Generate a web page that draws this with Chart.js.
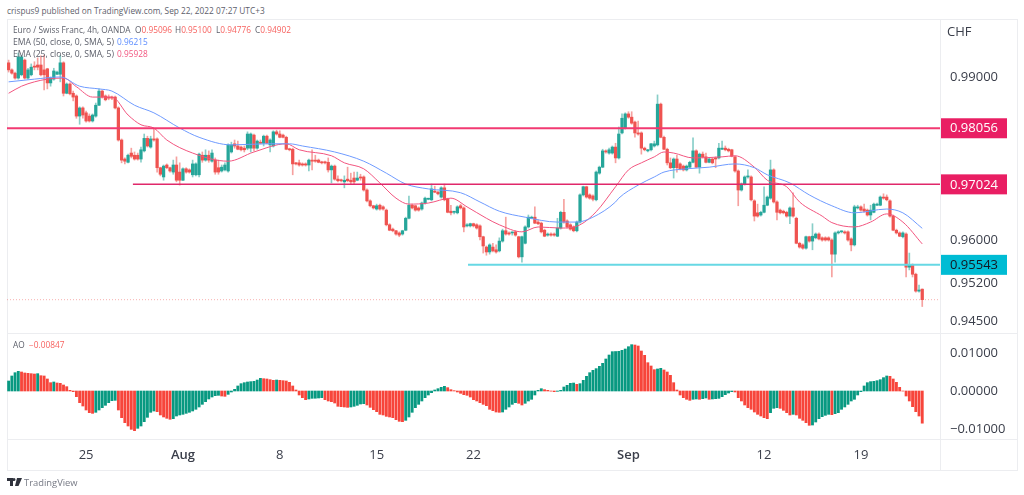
<!DOCTYPE html>
<html>
<head>
<meta charset="utf-8">
<title>EUR/CHF</title>
<script src="https://cdn.jsdelivr.net/npm/chart.js@4"></script>
<style>
  html, body { margin: 0; background: #fff; }
  body { position: relative; width: 1024px; height: 495px; overflow: hidden; font-family: "Open Sans", sans-serif; }
  canvas { position: absolute; left: 7px; }
  .txt { position: absolute; white-space: nowrap; font-size: 8.3px; line-height: 12px; color: #5d606b; }
  .rule { position: absolute; background: #ecedf0; }
  .red { color: #f7625f; }
</style>
</head>
<body>
<div class="rule" style="left:7px;top:19px;width:1010px;height:1px"></div>
<div class="rule" style="left:7px;top:470px;width:1010px;height:1px"></div>
<div class="rule" style="left:7px;top:19px;width:1px;height:451px"></div>
<div class="rule" style="left:1017px;top:19px;width:1px;height:452px"></div>
<div class="rule" style="left:940px;top:19px;width:1px;height:451px"></div>
<div class="rule" style="left:7px;top:333px;width:1010px;height:1px"></div>
<div class="rule" style="left:7px;top:439px;width:1010px;height:1px"></div>
<canvas id="priceChart" width="1010" height="313" style="top:20px"></canvas>
<canvas id="aoChart" width="1010" height="137" style="top:333px"></canvas>
<div class="txt" style="left:7px;top:5px">crispus9 published on TradingView.com, Sep 22, 2022 07:27 UTC+3</div>
<div class="txt" style="left:13px;top:24px">Euro / Swiss Franc, 4h, OANDA</div>
<div class="txt" style="left:135px;top:24px">O<span class="red">0.95096</span></div>
<div class="txt" style="left:175px;top:24px">H<span class="red">0.95100</span></div>
<div class="txt" style="left:216px;top:24px">L<span class="red">0.94776</span></div>
<div class="txt" style="left:255px;top:24px">C<span class="red">0.94902</span></div>
<div class="txt" style="left:13px;top:36px;font-size:8.6px">EMA (50, close, 0, SMA, 5)</div>
<div class="txt" style="left:117px;top:36px;color:#5b8cff">0.96215</div>
<div class="txt" style="left:13px;top:48px;font-size:8.6px">EMA (25, close, 0, SMA, 5)</div>
<div class="txt" style="left:117px;top:48px;color:#f2557f">0.95928</div>
<div class="txt" style="left:13px;top:339px">AO</div>
<div class="txt red" style="left:29px;top:339px">−0.00847</div>
<div class="txt" style="left:947px;top:22px;font-size:13px;line-height:18px;color:#3a3e4a">CHF</div>
<svg style="position:absolute;left:7px;top:478px" width="15" height="9" viewBox="0 0 15 9"><path fill="#2f323c" d="M0 0h6v8H3V3H0zM7 0a1.5 1.5 0 1 1 0 3 1.5 1.5 0 0 1 0-3zM10 0h5l-3.5 8H8z"/></svg>
<div class="txt" style="left:24px;top:477px;color:#777a85;font-size:9.4px">TradingView</div>

<script>
// 4h candles, one entry per bar
const opens = [
.9926,.9913,.9907,.9898,.9904,.9931,.9898,.9904,.9920,.9922,.9922,.9913,.9915,.9889,.9896,.9905,.9905,.9926,.9870,.9887,
.9870,.9865,.9828,.9843,.9834,.9828,.9819,.9828,.9848,.9874,.9865,.9863,.9863,.9863,.9843,.9784,.9749,.9743,.9760,.9756,
.9756,.9749,.9764,.9787,.9771,.9786,.9786,.9733,.9716,.9738,.9733,.9725,.9738,.9725,.9710,.9731,.9729,.9720,.9720,.9720,
.9756,.9747,.9756,.9745,.9747,.9733,.9727,.9729,.9727,.9762,.9777,.9773,.9771,.9769,.9769,.9769,.9793,.9769,.9780,.9778,
.9791,.9775,.9773,.9799,.9795,.9793,.9789,.9767,.9767,.9742,.9742,.9740,.9740,.9738,.9747,.9747,.9747,.9743,.9743,.9743,
.9729,.9736,.9712,.9710,.9707,.9712,.9710,.9714,.9710,.9716,.9716,.9692,.9672,.9663,.9657,.9664,.9661,.9655,.9628,.9620,
.9617,.9613,.9611,.9618,.9640,.9664,.9663,.9659,.9657,.9668,.9675,.9674,.9690,.9688,.9679,.9696,.9675,.9653,.9651,.9650,
.9663,.9659,.9626,.9626,.9630,.9628,.9626,.9606,.9587,.9578,.9587,.9582,.9580,.9598,.9617,.9613,.9613,.9615,.9606,.9569,
.9594,.9624,.9640,.9642,.9633,.9631,.9618,.9609,.9611,.9611,.9607,.9622,.9651,.9635,.9628,.9624,.9617,.9633,.9683,.9698,
.9683,.9681,.9674,.9723,.9734,.9764,.9760,.9760,.9771,.9751,.9797,.9806,.9832,.9826,.9817,.9797,.9797,.9769,.9764,.9766,
.9773,.9775,.9850,.9789,.9767,.9742,.9733,.9749,.9740,.9736,.9729,.9734,.9743,.9764,.9734,.9758,.9753,.9743,.9749,.9751,
.9751,.9767,.9769,.9767,.9766,.9753,.9727,.9692,.9703,.9716,.9716,.9672,.9650,.9646,.9651,.9664,.9677,.9729,.9670,.9655,
.9653,.9651,.9644,.9659,.9640,.9594,.9591,.9585,.9606,.9598,.9604,.9611,.9604,.9604,.9604,.9600,.9574,.9613,.9615,.9615,
.9615,.9602,.9591,.9659,.9661,.9657,.9655,.9646,.9651,.9664,.9664,.9679,.9679,.9672,.9644,.9618,.9613,.9606,.9611,.9550,
.9554,.9537,.9506,.95096];
const closes = [
.9913,.9907,.9898,.9937,.9937,.9898,.9913,.9918,.9918,.9918,.9904,.9904,.9889,.9898,.9911,.9909,.9926,.9870,.9887,.9869,
.9863,.9828,.9843,.9830,.9819,.9819,.9830,.9848,.9874,.9863,.9858,.9861,.9861,.9843,.9784,.9747,.9745,.9756,.9754,.9749,
.9749,.9766,.9787,.9773,.9786,.9784,.9733,.9721,.9736,.9733,.9727,.9738,.9710,.9710,.9731,.9725,.9725,.9740,.9740,.9758,
.9747,.9756,.9747,.9760,.9725,.9725,.9734,.9738,.9775,.9775,.9773,.9767,.9766,.9766,.9795,.9795,.9769,.9782,.9778,.9791,
.9778,.9784,.9799,.9795,.9789,.9789,.9767,.9766,.9740,.9740,.9738,.9738,.9738,.9747,.9745,.9745,.9743,.9742,.9742,.9729,
.9736,.9712,.9709,.9709,.9710,.9709,.9707,.9707,.9714,.9714,.9692,.9672,.9663,.9659,.9663,.9657,.9657,.9628,.9618,.9617,
.9611,.9609,.9617,.9640,.9664,.9659,.9655,.9655,.9668,.9677,.9675,.9694,.9688,.9685,.9696,.9674,.9651,.9650,.9651,.9661,
.9659,.9624,.9628,.9630,.9626,.9622,.9606,.9589,.9578,.9591,.9580,.9578,.9598,.9617,.9611,.9611,.9613,.9609,.9569,.9606,
.9624,.9642,.9642,.9631,.9630,.9615,.9607,.9611,.9609,.9609,.9622,.9651,.9633,.9624,.9620,.9617,.9633,.9683,.9698,.9679,
.9677,.9675,.9725,.9734,.9764,.9762,.9766,.9771,.9751,.9795,.9824,.9832,.9826,.9815,.9797,.9795,.9769,.9766,.9766,.9777,
.9777,.9850,.9789,.9767,.9742,.9733,.9749,.9733,.9731,.9729,.9736,.9743,.9764,.9734,.9758,.9753,.9743,.9749,.9742,.9749,
.9769,.9769,.9766,.9764,.9754,.9727,.9692,.9703,.9716,.9716,.9674,.9644,.9644,.9651,.9664,.9679,.9729,.9670,.9651,.9650,
.9650,.9644,.9659,.9644,.9594,.9587,.9585,.9606,.9598,.9607,.9611,.9602,.9600,.9600,.9600,.9574,.9613,.9615,.9615,.9613,
.9600,.9591,.9661,.9659,.9655,.9653,.9646,.9655,.9666,.9666,.9679,.9677,.9674,.9644,.9618,.9613,.9607,.9613,.9550,.9554,
.9537,.9506,.9508,.94902];
const highs = [
.9931,.9915,.9909,.9944,.9940,.9933,.9916,.9924,.9928,.9935,.9939,.9940,.9916,.9900,.9916,.9911,.9940,.9928,.9889,.9889,
.9874,.9867,.9845,.9845,.9837,.9832,.9832,.9852,.9878,.9876,.9867,.9867,.9865,.9865,.9845,.9786,.9751,.9758,.9769,.9762,
.9760,.9771,.9795,.9791,.9791,.9804,.9788,.9734,.9738,.9740,.9734,.9747,.9753,.9742,.9733,.9733,.9731,.9747,.9742,.9760,
.9762,.9766,.9764,.9766,.9751,.9747,.9738,.9742,.9777,.9780,.9784,.9782,.9773,.9773,.9799,.9797,.9795,.9784,.9784,.9793,
.9793,.9786,.9801,.9802,.9801,.9795,.9791,.9769,.9769,.9743,.9747,.9742,.9742,.9749,.9766,.9756,.9749,.9745,.9745,.9751,
.9738,.9738,.9718,.9712,.9718,.9734,.9723,.9725,.9725,.9721,.9718,.9694,.9674,.9664,.9666,.9666,.9663,.9657,.9630,.9622,
.9618,.9615,.9618,.9642,.9681,.9666,.9664,.9661,.9670,.9679,.9677,.9703,.9699,.9690,.9698,.9703,.9677,.9664,.9653,.9663,
.9666,.9661,.9630,.9631,.9631,.9630,.9628,.9607,.9589,.9593,.9594,.9591,.9604,.9620,.9642,.9615,.9615,.9617,.9607,.9607,
.9626,.9646,.9644,.9661,.9637,.9633,.9620,.9613,.9613,.9613,.9640,.9653,.9675,.9637,.9630,.9626,.9635,.9685,.9699,.9699,
.9685,.9683,.9727,.9736,.9767,.9766,.9769,.9773,.9778,.9808,.9832,.9834,.9836,.9836,.9819,.9819,.9799,.9771,.9767,.9778,
.9782,.9867,.9852,.9791,.9769,.9751,.9751,.9756,.9742,.9738,.9738,.9745,.9788,.9766,.9760,.9762,.9760,.9751,.9751,.9753,
.9778,.9782,.9773,.9769,.9767,.9754,.9729,.9705,.9718,.9729,.9718,.9674,.9666,.9653,.9698,.9681,.9747,.9731,.9672,.9657,
.9655,.9653,.9661,.9687,.9642,.9596,.9593,.9607,.9607,.9630,.9613,.9613,.9606,.9606,.9606,.9602,.9615,.9617,.9617,.9617,
.9617,.9604,.9664,.9664,.9663,.9666,.9657,.9664,.9668,.9668,.9681,.9685,.9683,.9674,.9646,.9620,.9615,.9615,.9613,.9576,
.9556,.9539,.9517,.95100];
const lows = [
.9909,.9905,.9896,.9896,.9902,.9896,.9896,.9902,.9913,.9913,.9902,.9876,.9878,.9883,.9894,.9904,.9891,.9865,.9869,.9867,
.9856,.9824,.9813,.9824,.9817,.9817,.9817,.9826,.9847,.9861,.9856,.9858,.9858,.9841,.9782,.9742,.9740,.9742,.9751,.9747,
.9747,.9743,.9762,.9771,.9769,.9782,.9725,.9718,.9710,.9731,.9725,.9721,.9707,.9701,.9709,.9723,.9723,.9716,.9718,.9716,
.9743,.9745,.9743,.9743,.9721,.9721,.9725,.9727,.9725,.9760,.9769,.9766,.9764,.9762,.9766,.9762,.9764,.9767,.9777,.9773,
.9777,.9762,.9771,.9793,.9788,.9788,.9766,.9764,.9720,.9738,.9736,.9736,.9736,.9727,.9729,.9743,.9742,.9740,.9740,.9725,
.9705,.9710,.9707,.9707,.9696,.9707,.9703,.9703,.9709,.9710,.9690,.9670,.9661,.9657,.9655,.9655,.9655,.9626,.9617,.9615,
.9609,.9606,.9609,.9617,.9639,.9657,.9653,.9653,.9655,.9666,.9674,.9672,.9687,.9683,.9677,.9672,.9650,.9646,.9648,.9648,
.9657,.9615,.9624,.9624,.9624,.9620,.9600,.9576,.9572,.9574,.9578,.9576,.9578,.9596,.9609,.9609,.9609,.9607,.9567,.9559,
.9593,.9622,.9639,.9630,.9628,.9613,.9606,.9607,.9607,.9607,.9606,.9620,.9631,.9622,.9618,.9615,.9615,.9631,.9681,.9677,
.9675,.9672,.9672,.9721,.9733,.9760,.9758,.9758,.9742,.9749,.9795,.9804,.9824,.9813,.9789,.9793,.9758,.9764,.9762,.9764,
.9771,.9773,.9788,.9766,.9738,.9731,.9714,.9725,.9729,.9727,.9727,.9733,.9742,.9733,.9723,.9751,.9742,.9742,.9740,.9733,
.9749,.9766,.9764,.9762,.9753,.9725,.9663,.9690,.9701,.9714,.9672,.9635,.9642,.9644,.9650,.9663,.9675,.9668,.9637,.9648,
.9648,.9642,.9630,.9642,.9593,.9585,.9583,.9583,.9596,.9582,.9602,.9600,.9598,.9598,.9598,.9532,.9559,.9611,.9613,.9611,
.9598,.9580,.9589,.9657,.9653,.9651,.9644,.9637,.9650,.9663,.9663,.9675,.9672,.9642,.9617,.9611,.9606,.9604,.9532,.9545,
.9532,.9504,.9504,.94776];

// moving averages, values read at these bar numbers
const ema50Bars = [0,8,16,22,28,32,39,45,53,59,69,80,87,91,101,110,117,123,130,140,146,152,160,170,176,181,188,189,195,200,203,210,217,225,231,235,242,248,255,262,272,277,283];
const ema50Values = [.9891,.9896,.9900,.9883,.9878,.9874,.9848,.9834,.9806,.9789,.9775,.9777,.9777,.9773,.9762,.9745,.9723,.9703,.9694,.9687,.9670,.9653,.9642,.9633,.9633,.9642,.9670,.9677,.9701,.9716,.9725,.9731,.9734,.9740,.9733,.9720,.9705,.9683,.9663,.9650,.9657,.9650,.96215];
const ema25Bars = [0,4,8,12,17,21,26,32,37,41,45,49,57,68,76,86,90,100,104,110,115,120,124,130,137,142,148,152,159,164,171,177,182,188,192,196,200,203,206,212,221,225,231,235,241,245,252,255,262,267,272,277,283];
const ema25Values = [.9870,.9883,.9891,.9896,.9898,.9882,.9863,.9863,.9830,.9812,.9806,.9784,.9760,.9745,.9762,.9777,.9766,.9755,.9742,.9731,.9705,.9677,.9666,.9668,.9677,.9661,.9640,.9628,.9615,.9624,.9622,.9628,.9652,.9698,.9729,.9742,.9753,.9762,.9760,.9751,.9753,.9755,.9734,.9710,.9698,.9670,.9644,.9632,.9624,.9633,.9648,.9633,.95928];

// horizontal levels drawn on the chart
const levelValues = [0.98056, 0.97024, 0.95543];
const levelStartBars = [-0.5, 38.5, 142.3];
const lastClose = 0.94902;

const aoValues = [
.00263,.00395,.00482,.00517,.00500,.00474,.00465,.00456,.00447,.00456,.00403,.00395,.00316,.00219,.00237,.00211,.00202,.00158,.00114,.00018,
-.00018,-.00149,-.00307,-.00395,-.00500,-.00570,-.00588,-.00561,-.00500,-.00439,-.00377,-.00307,-.00254,-.00246,-.00500,-.00702,-.00833,-.00921,-.01009,-.01044,
-.00982,-.00921,-.00807,-.00693,-.00561,-.00526,-.00544,-.00631,-.00684,-.00719,-.00745,-.00728,-.00658,-.00631,-.00614,-.00588,-.00561,-.00526,-.00482,-.00421,
-.00351,-.00281,-.00210,-.00158,-.00123,-.00114,-.00132,-.00140,-.00088,-.00026,.00044,.00132,.00193,.00219,.00237,.00246,.00254,.00289,.00333,.00324,
.00316,.00298,.00281,.00289,.00281,.00272,.00263,.00228,.00132,.00026,-.00105,-.00175,-.00228,-.00210,-.00193,-.00191,-.00184,-.00175,-.00228,-.00263,
-.00281,-.00316,-.00403,-.00412,-.00421,-.00430,-.00421,-.00403,-.00377,-.00342,-.00333,-.00368,-.00430,-.00491,-.00544,-.00614,-.00631,-.00667,-.00684,-.00702,
-.00754,-.00798,-.00807,-.00772,-.00684,-.00561,-.00439,-.00351,-.00263,-.00175,-.00105,-.00044,.00026,.00061,.00096,.00123,.00088,.00035,.00009,-.00026,
-.00061,-.00096,-.00114,-.00158,-.00228,-.00263,-.00307,-.00351,-.00386,-.00482,-.00517,-.00553,-.00561,-.00553,-.00482,-.00421,-.00351,-.00307,-.00324,-.00368,
-.00324,-.00263,-.00219,-.00105,.00018,.00061,.00035,.00018,-.00004,-.00018,-.00009,.00018,.00105,.00149,.00202,.00210,.00175,.00193,.00281,.00386,
.00482,.00544,.00588,.00649,.00728,.00842,.00947,.01035,.01039,.01044,.01070,.01105,.01166,.01219,.01210,.01184,.01052,.00938,.00745,.00658,
.00561,.00579,.00596,.00553,.00500,.00412,.00219,.00026,-.00105,-.00175,-.00219,-.00246,-.00219,-.00210,-.00219,-.00202,-.00184,-.00219,-.00210,-.00202,
-.00193,-.00149,-.00096,-.00053,-.00018,-.00026,-.00175,-.00263,-.00368,-.00439,-.00482,-.00553,-.00614,-.00658,-.00702,-.00728,-.00570,-.00456,-.00439,-.00456,
-.00509,-.00570,-.00631,-.00614,-.00631,-.00719,-.00772,-.00833,-.00903,-.00895,-.00816,-.00728,-.00675,-.00640,-.00614,-.00623,-.00596,-.00570,-.00482,-.00421,
-.00351,-.00263,-.00219,-.00105,-.00018,.00132,.00219,.00246,.00254,.00272,.00298,.00351,.00395,.00386,.00316,.00228,.00096,-.00002,-.00132,-.00263,
-.00412,-.00544,-.00658,-.00847];

const priceTicks = [0.99, 0.96, 0.952, 0.945];
const aoTicks = [0.01, 0, -0.01];
const timeTickBars = [24, 54, 84, 114, 144, 192, 234, 264];
const timeTickLabels = ['25', 'Aug', '8', '15', '22', 'Sep', '12', '19'];

const GREEN = '#26a69a', RED = '#ef5350';
const WICK_GREEN = 'rgba(38,166,154,0.55)', WICK_RED = 'rgba(239,83,80,0.55)';
const FONT = '"Open Sans", sans-serif';
const tickColor = '#3a3e4a';
const tagColors = ['#e91e63', '#e91e63', '#00bcd4'];
const lineColors = ['#f23a72', '#e0286a', '#67d8e4'];

Chart.defaults.font.family = FONT;

const xAxis = {
  type: 'linear', min: -0.5, max: 288.5, offset: false,
  grid: { display: false }, border: { display: false }
};

function yAxis(min, max, tickValues) {
  return {
    position: 'right', min: min, max: max, beginAtZero: false,
    grid: { display: false }, border: { display: false },
    afterBuildTicks: s => { s.ticks = tickValues.map(v => ({ value: v })); },
    afterFit: s => { s.width = 77; s.paddingTop = 0; s.paddingBottom = 0; },
    ticks: {
      autoSkip: false, padding: 2, color: tickColor, font: { size: 13 },
      callback: v => v.toFixed(5).replace('-', '−')
    }
  };
}

// price tags on the right axis
const priceTags = {
  id: 'priceTags',
  afterDraw(chart) {
    const ctx = chart.ctx, y = chart.scales.y, right = chart.chartArea.right;
    levelValues.forEach((v, k) => {
      const py = y.getPixelForValue(v);
      ctx.fillStyle = tagColors[k];
      ctx.fillRect(right + 1, py - 10, 66, 20);
      ctx.fillStyle = k == 2 ? '#131722' : '#fff';
      ctx.font = '13px ' + FONT;
      ctx.textAlign = 'center';
      ctx.textBaseline = 'middle';
      ctx.fillText(v.toFixed(5), right + 34, py + 0.5);
    });
  }
};

const candleX = opens.map((_, i) => i);

const levelSets = levelValues.map((v, k) => ({
  type: 'line', order: 1, data: [{ x: levelStartBars[k], y: v }, { x: 288.5, y: v }],
  borderColor: lineColors[k], borderWidth: k == 1 ? 1.5 : 2, pointRadius: 0
}));

new Chart(document.getElementById('priceChart'), {
  data: {
    datasets: [
      // wicks
      {
        type: 'bar', order: 5, grouped: false, barThickness: 1,
        data: candleX.map(i => ({ x: i, y: [lows[i], highs[i]] })),
        backgroundColor: candleX.map(i => closes[i] >= opens[i] ? WICK_GREEN : WICK_RED)
      },
      // bodies
      {
        type: 'bar', order: 4, grouped: false, barThickness: 2.6, minBarLength: 1,
        data: candleX.map(i => ({ x: i, y: [opens[i], closes[i]] })),
        backgroundColor: candleX.map(i => closes[i] >= opens[i] ? GREEN : RED)
      },
      {
        type: 'line', order: 3, data: ema50Bars.map((b, k) => ({ x: b, y: ema50Values[k] })),
        borderColor: '#6f9bff', borderWidth: 1, pointRadius: 0, cubicInterpolationMode: 'monotone'
      },
      {
        type: 'line', order: 3, data: ema25Bars.map((b, k) => ({ x: b, y: ema25Values[k] })),
        borderColor: '#f2557f', borderWidth: 1, pointRadius: 0, cubicInterpolationMode: 'monotone'
      },
      {
        type: 'line', order: 6, data: [{ x: -0.5, y: lastClose }, { x: 288.5, y: lastClose }],
        borderColor: 'rgba(239,83,80,0.45)', borderWidth: 1, borderDash: [1, 2], pointRadius: 0
      },
      ...levelSets
    ]
  },
  options: {
    responsive: false, animation: false,
    layout: { autoPadding: false, padding: 0 },
    plugins: { legend: { display: false }, tooltip: { enabled: false } },
    scales: { x: { ...xAxis, display: false }, y: yAxis(0.94289, 1.00048, priceTicks) }
  },
  plugins: [priceTags]
});

new Chart(document.getElementById('aoChart'), {
  data: {
    datasets: [{
      type: 'bar', barThickness: 2.2,
      data: aoValues.map((v, i) => ({ x: i, y: v })),
      backgroundColor: aoValues.map((v, i) => i == 0 || v >= aoValues[i - 1] ? '#089981' : '#f7453b')
    }]
  },
  options: {
    responsive: false, animation: false,
    layout: { autoPadding: false, padding: 0 },
    plugins: { legend: { display: false }, tooltip: { enabled: false } },
    scales: {
      x: {
        ...xAxis,
        afterBuildTicks: s => { s.ticks = timeTickBars.map(v => ({ value: v })); },
        afterFit: s => { s.height = 31; },
        ticks: {
          autoSkip: false, maxRotation: 0, padding: 0, color: tickColor,
          font: c => {
            const label = c.tick ? timeTickLabels[timeTickBars.indexOf(c.tick.value)] : '';
            return { size: 13, weight: label == 'Aug' || label == 'Sep' ? '600' : '400' };
          },
          callback: v => timeTickLabels[timeTickBars.indexOf(v)]
        }
      },
      y: yAxis(-0.01263, 0.01526, aoTicks)
    }
  }
});
</script>
</body>
</html>
